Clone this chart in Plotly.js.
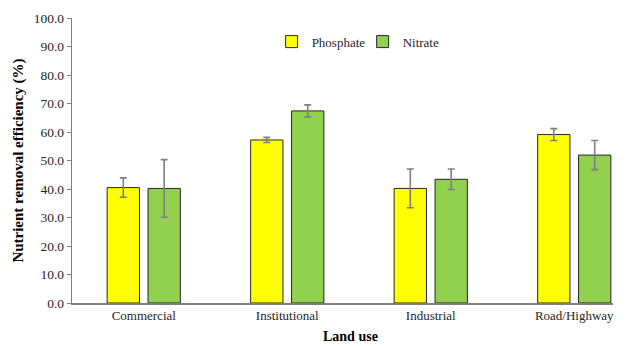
<!DOCTYPE html>
<html>
<head>
<meta charset="utf-8">
<script src="https://cdn.plot.ly/plotly-3.0.1.min.js"></script>
<style>html,body{margin:0;padding:0;background:#fff;}#chart{width:636px;height:346px;}</style>
</head>
<body>
<div id="chart"></div>
<script>
const categories = ["Commercial", "Institutional", "Industrial", "Road/Highway"];
const phosphate = [40.5, 57.2, 40.2, 59.1];
const phosphateErr = [3.4, 0.9, 6.8, 2.1];
const nitrate = [40.2, 67.4, 43.4, 51.9];
const nitrateErr = [10.1, 2.1, 3.6, 5.1];
const yTicks = [0, 10, 20, 30, 40, 50, 60, 70, 80, 90, 100];

const errStyle = {color: '#7f7f7f', thickness: 1.6, width: 3.5};
const traces = [
  {type: 'bar', name: 'Phosphate', x: categories, y: phosphate,
   marker: {color: '#FFFF00', line: {color: '#262626', width: 1}},
   error_y: Object.assign({type: 'data', array: phosphateErr, visible: true}, errStyle)},
  {type: 'bar', name: 'Nitrate', x: categories, y: nitrate,
   marker: {color: '#92D050', line: {color: '#262626', width: 1}},
   error_y: Object.assign({type: 'data', array: nitrateErr, visible: true}, errStyle)}
];

const font = 'Liberation Serif, Times New Roman, serif';
const layout = {
  width: 636, height: 346,
  margin: {l: 72, r: 23, t: 18, b: 43, pad: 0},
  paper_bgcolor: '#fff', plot_bgcolor: '#fff',
  font: {family: font, size: 13, color: '#262626'},
  barmode: 'group', bargap: 0.43, bargroupgap: 0.21,
  showlegend: true,
  legend: {orientation: 'h', x: 0.369, xanchor: 'left', y: 0.917, yanchor: 'middle',
           font: {family: font, size: 13, color: '#262626'}, bgcolor: 'rgba(0,0,0,0)',
           itemwidth: 30, traceorder: 'normal', entrywidth: 46, entrywidthmode: 'pixels'},
  xaxis: {type: 'category', range: [-0.5, 3.27], showgrid: false, zeroline: false,
          showline: true, linecolor: '#7f7f7f', linewidth: 1.5, ticks: '',
          tickfont: {family: font, size: 13, color: '#262626'}},
  yaxis: {range: [0, 100], tickvals: yTicks, ticktext: yTicks.map(v => v.toFixed(1)),
          showgrid: false, zeroline: false, showline: true, linecolor: '#7f7f7f', linewidth: 1.2,
          ticks: 'outside', ticklen: 4, tickcolor: '#7f7f7f',
          tickfont: {family: font, size: 13.5, color: '#262626'},
          title: {text: '<b>Nutrient removal efficiency (%)</b>', font: {family: font, size: 15, color: '#000'}, standoff: 6}},
  annotations: [{text: '<b>Land use</b>', xref: 'paper', yref: 'paper', x: 0.514, y: -0.118,
                 xanchor: 'center', yanchor: 'middle', showarrow: false,
                 font: {family: font, size: 14, color: '#000'}}]
};
Plotly.newPlot('chart', traces, layout, {displayModeBar: false, staticPlot: true});
</script>
</body>
</html>
